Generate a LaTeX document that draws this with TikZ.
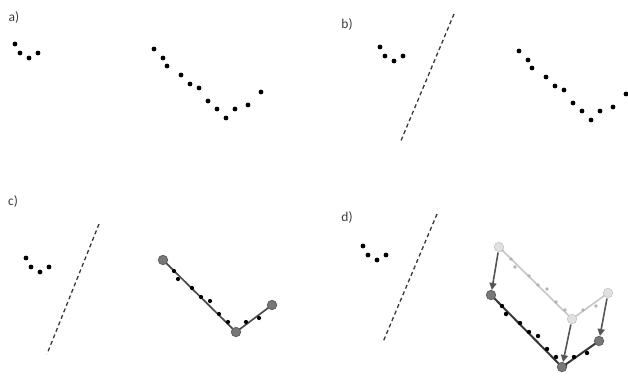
\documentclass[tikz,border=0pt]{standalone}
\usepackage{fontspec}
\setmainfont{Carlito}
\usetikzlibrary{arrows.meta}
\pgfdeclarelayer{bg}
\pgfsetlayers{bg,main}
\definecolor{lblc}{RGB}{60,60,60}
\definecolor{bigfill}{RGB}{120,120,120}
\definecolor{bigdraw}{RGB}{90,90,90}
\definecolor{fitc}{RGB}{75,75,75}
\definecolor{dfitc}{RGB}{55,55,55}
\definecolor{lfill}{RGB}{225,225,225}
\definecolor{ldraw}{RGB}{200,200,200}
\definecolor{lfitc}{RGB}{198,198,198}
\definecolor{ldotc}{RGB}{178,178,178}
\definecolor{cutc}{RGB}{55,55,55}
\definecolor{movec}{RGB}{85,85,85}
\def\Loff{1/0/0,2/5/9,3/14/14,4/23/9}
\def\Roff{1/0/0,2/9/9,3/13/17,4/27/26,5/36/35,6/45/39,7/54/52,8/63/60,9/72/69,10/81/60,11/94/56,12/107/43}
\begin{document}
\begin{tikzpicture}[x=1pt,y=-1pt,
  dot/.style={circle,fill=black,inner sep=0pt,minimum size=4.8pt},
  ldot/.style={circle,fill=ldotc,inner sep=0pt,minimum size=3.8pt},
  bigc/.style={circle,fill=bigfill,draw=bigdraw,line width=0.7pt,inner sep=0pt,minimum size=9.5pt},
  lbigc/.style={circle,fill=lfill,draw=ldraw,line width=0.7pt,inner sep=0pt,minimum size=9.5pt},
  fitline/.style={draw=fitc,line width=1.7pt},
  dfitline/.style={draw=dfitc,line width=2pt},
  lfitline/.style={draw=lfitc,line width=1.6pt},
  cut/.style={draw=cutc,dash pattern=on 4pt off 3pt,line width=1.3pt},
  move/.style={draw=movec,line width=1.6pt,-{Triangle[length=7pt,width=7pt]},shorten <=0.5pt},
  lab/.style={text=lblc,font=\fontsize{13.5}{15}\selectfont,inner sep=0pt}]
\useasboundingbox (0,0) rectangle (628,375);
% labels
\node[lab] (la) at (14,17) {a)};
\node[lab] (lb) at (347,24) {b)};
\node[lab] (lc) at (13,201) {c)};
\node[lab] (ld) at (347,217) {d)};
% panel a
\foreach \i/\dx/\dy in \Loff {\node[dot] (aL\i) at (15+\dx,44+\dy) {};}
\foreach \i/\dx/\dy in \Roff {\node[dot] (aR\i) at (154+\dx,49+\dy) {};}
% panel b
\foreach \i/\dx/\dy in \Loff {\node[dot] (bL\i) at (380+\dx,47+\dy) {};}
\foreach \i/\dx/\dy in \Roff {\node[dot] (bR\i) at (519+\dx,51+\dy) {};}
\coordinate (bT) at (454,14);
\coordinate (bB) at (400,143);
\draw[cut] (bT) -- (bB);
% panel c
\foreach \i/\dx/\dy in \Loff {\node[dot] (cL\i) at (26+\dx,258+\dy) {};}
\foreach \i/\dx/\dy in \Roff {\node[dot,minimum size=4.2pt] (cR\i) at (165+\dx,262+\dy) {};}
\coordinate (cT) at (99,224);
\coordinate (cB) at (47,354);
\draw[cut] (cT) -- (cB);
\node[bigc] (cS) at (163,260) {};
\node[bigc] (cV) at (236,332) {};
\node[bigc] (cE) at (272,305) {};
\begin{pgfonlayer}{bg}
\draw[fitline] (cS.center) -- (cV.center) -- (cE.center);
\end{pgfonlayer}
% panel d
\foreach \i/\dx/\dy in \Loff {\node[dot] (dL\i) at (363+\dx,246+\dy) {};}
\coordinate (dT) at (437,214);
\coordinate (dB) at (383,342);
\draw[cut] (dT) -- (dB);
\foreach \i/\dx/\dy in \Roff {\node[ldot] (dP\i) at (502+\dx,250+\dy) {};}
\foreach \i/\dx/\dy in \Roff {\node[dot,minimum size=4.4pt] (dR\i) at (493+\dx,297+\dy) {};}
\node[lbigc] (lS) at (499,247) {};
\node[lbigc] (lV) at (572,319) {};
\node[lbigc] (lE) at (608,293) {};
\node[bigc] (dS) at (491,295) {};
\node[bigc] (dV) at (562,367) {};
\node[bigc] (dE) at (599,341) {};
\begin{pgfonlayer}{bg}
\draw[lfitline] (lS.center) -- (lV.center) -- (lE.center);
\draw[dfitline] (dS.center) -- (dV.center) -- (dE.center);
\end{pgfonlayer}
\draw[move] (lS) -- (dS);
\draw[move] (lV) -- (dV);
\draw[move] (lE) -- (dE);
\end{tikzpicture}
\end{document}
